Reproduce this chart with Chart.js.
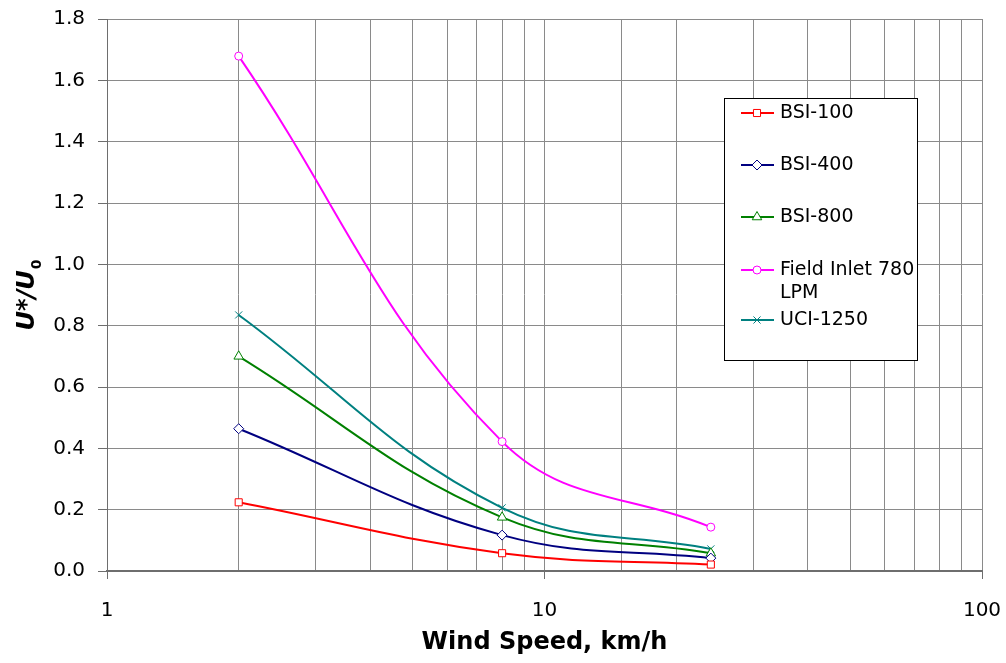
<!DOCTYPE html>
<html>
<head>
<meta charset="utf-8">
<script src="https://cdn.jsdelivr.net/npm/chart.js@4/dist/chart.umd.min.js"></script>
<style>
  html, body { margin: 0; padding: 0; background: #ffffff; }
  #wrap { width: 1006px; height: 663px; }
</style>
</head>
<body>
<div id="wrap"><canvas id="c" width="1006" height="663"></canvas></div>
<script>
// ---- data ----
const windSpeed = [2, 8, 24];
const bsi100 = [0.224, 0.058, 0.021];
const bsi400 = [0.464, 0.117, 0.042];
const bsi800 = [0.700, 0.175, 0.058];
const fieldInlet780 = [1.679, 0.422, 0.143];
const uci1250 = [0.835, 0.206, 0.072];
const seriesNames = ['BSI-100', 'BSI-400', 'BSI-800', 'Field Inlet 780 LPM', 'UCI-1250'];
const xTickLabels = [1, 10, 100];
const yTickLabels = ['0.0','0.2','0.4','0.6','0.8','1.0','1.2','1.4','1.6','1.8'];
const xTitle = 'Wind Speed, km/h';
const yTitleMain = 'U*/U';
const yTitleSub = '0';

const FONT = 'DejaVu Sans';
const colors = ['#ff0000', '#000080', '#008000', '#ff00ff', '#008080'];
const styles = ['rect', 'rectRot', 'triangle', 'circle', 'crossRot'];
const radii = [5, 5, 5.5, 4, 5];
const seriesValues = [bsi100, bsi400, bsi800, fieldInlet780, uci1250];

const datasets = seriesValues.map((vals, i) => ({
  label: seriesNames[i],
  data: windSpeed.map((x, j) => ({ x: x, y: vals[j] })),
  borderColor: colors[i],
  borderWidth: 2,
  pointStyle: styles[i],
  pointRadius: radii[i],
  pointBorderWidth: 1,
  pointBorderColor: colors[i],
  pointBackgroundColor: '#ffffff',
  tension: 0.4,
  fill: false
}));

const customDraw = {
  id: 'customDraw',
  afterDraw(chart) {
    const ctx = chart.ctx;
    const ca = chart.chartArea;
    ctx.save();
    // y-axis title with subscript
    ctx.fillStyle = '#000000';
    ctx.textBaseline = 'alphabetic';
    ctx.textAlign = 'left';
    const mainFont = 'italic bold 24px "' + FONT + '"';
    const subFont = 'bold 14px "' + FONT + '"';
    ctx.font = mainFont;
    const wMain = ctx.measureText(yTitleMain).width;
    ctx.font = subFont;
    const wSub = ctx.measureText(yTitleSub).width;
    const total = wMain + 1 + wSub;
    const cy = (ca.top + ca.bottom) / 2;
    ctx.translate(34, cy + total / 2);
    ctx.rotate(-Math.PI / 2);
    ctx.font = mainFont;
    ctx.fillText(yTitleMain, 0, 0);
    ctx.font = subFont;
    ctx.fillText(yTitleSub, wMain + 1, 7);
    ctx.restore();

    // legend box
    ctx.save();
    const bx = 724, by = 98, bw = 193, bh = 262;
    ctx.fillStyle = '#ffffff';
    ctx.fillRect(bx, by, bw, bh);
    ctx.strokeStyle = '#000000';
    ctx.lineWidth = 1;
    ctx.strokeRect(bx + 0.5, by + 0.5, bw, bh);
    const rowsY = [113, 165, 217, 270, 320];
    ctx.font = '19px "' + FONT + '"';
    ctx.textBaseline = 'middle';
    ctx.textAlign = 'left';
    const maxW = bx + bw - 780 + 2;
    seriesNames.forEach((name, i) => {
      const y = rowsY[i];
      ctx.strokeStyle = colors[i];
      ctx.lineWidth = 2;
      ctx.beginPath();
      ctx.moveTo(741, y);
      ctx.lineTo(774, y);
      ctx.stroke();
      ctx.fillStyle = '#ffffff';
      ctx.strokeStyle = colors[i];
      ctx.lineWidth = 1;
      Chart.helpers.drawPoint(ctx, { pointStyle: styles[i], radius: radii[i], rotation: 0, borderWidth: 1 }, 757, y);
      // wrap text
      ctx.fillStyle = '#000000';
      const words = name.split(' ');
      let line = '';
      let ly = y;
      words.forEach(w => {
        const test = line ? line + ' ' + w : w;
        if (ctx.measureText(test).width > maxW && line) {
          ctx.fillText(line, 780, ly);
          line = w;
          ly += 23;
        } else {
          line = test;
        }
      });
      if (line) ctx.fillText(line, 780, ly);
    });
    ctx.restore();
  }
};

new Chart(document.getElementById('c'), {
  type: 'line',
  data: { datasets: datasets },
  plugins: [customDraw],
  options: {
    responsive: false,
    animation: false,
    layout: { padding: 0 },
    plugins: {
      legend: { display: false },
      tooltip: { enabled: false }
    },
    scales: {
      x: {
        type: 'logarithmic',
        min: 1,
        max: 100,
        afterFit(scale) {
          scale.height = 92;
          scale.paddingLeft = 0;
          scale.paddingRight = 24;
        },
        border: { display: true, color: '#6e6e6e', width: 2 },
        grid: {
          color: '#8a8a8a',
          lineWidth: 1,
          drawTicks: true,
          tickLength: 8,
          tickColor: (c) => (c.tick && xTickLabels.includes(c.tick.value)) ? '#6e6e6e' : 'rgba(0,0,0,0)'
        },
        ticks: {
          autoSkip: false,
          maxRotation: 0,
          padding: 20,
          color: '#000000',
          font: { family: FONT, size: 20 },
          callback: (v) => xTickLabels.includes(v) ? String(v) : ''
        },
        title: {
          display: true,
          text: xTitle,
          color: '#000000',
          font: { family: FONT, size: 24, weight: 'bold' },
          padding: { top: 2, bottom: 6 }
        }
      },
      y: {
        type: 'linear',
        min: 0,
        max: 1.8,
        afterFit(scale) {
          scale.width = 107;
          scale.paddingTop = 19;
          scale.paddingBottom = 0;
        },
        border: { display: true, color: '#6e6e6e', width: 1 },
        grid: {
          color: '#8a8a8a',
          lineWidth: 1,
          drawTicks: true,
          tickLength: 9,
          tickColor: '#6e6e6e'
        },
        ticks: {
          stepSize: 0.2,
          padding: 13,
          color: '#000000',
          font: { family: FONT, size: 20 },
          callback: (v, idx) => yTickLabels[idx]
        },
        title: { display: false }
      }
    }
  }
});
</script>
</body>
</html>
